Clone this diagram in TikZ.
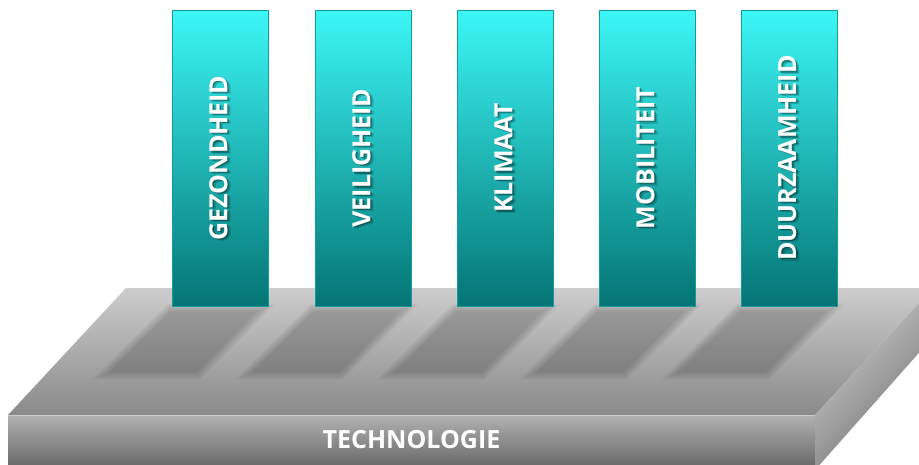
\documentclass[tikz,border=0pt]{standalone}
\usepackage{fontspec}
\setmainfont{Open Sans}
\definecolor{cyanT}{HTML}{3DF7F7}
\definecolor{tealB}{HTML}{047474}
\definecolor{topA}{HTML}{CDCDCD}
\definecolor{topM}{HTML}{BDBDBD}
\definecolor{topB}{HTML}{8A8A8A}
\definecolor{frontA}{HTML}{B2B2B2}
\definecolor{frontB}{HTML}{646464}
\definecolor{sideA}{HTML}{D2D2D2}
\definecolor{sideB}{HTML}{6E6E6E}
\newcommand{\shadowtext}[3]{% #1 right shift, #2 raise, #3 text
  {\pgfsetfillopacity{0.3}\rlap{\hspace*{#1}\raisebox{#2}{\color{black}#3}}%
   \pgfsetfillopacity{0.18}\rlap{\hspace*{#1}\hspace*{#1}\raisebox{#2}{\raisebox{#2}{\color{black}#3}}}%
   \pgfsetfillopacity{1}#3}}
\tikzset{
  pillar/.style={rectangle, minimum width=96pt, minimum height=296pt, inner sep=0pt,
    top color=cyanT, bottom color=tealB, draw=tealB!70!cyanT, line width=0.6pt},
  lbl/.style={text=white, font=\bfseries\fontsize{25}{30}\selectfont, inner sep=0pt},
  shadowlayer/.style={fill=black, opacity=0.036}
}
\begin{document}
\begin{tikzpicture}[x=1pt,y=-1pt]
\useasboundingbox (0,0) rectangle (919,464);
\begin{scope}
\clip (0,0) rectangle (919,464);
% platform top face
\shade[top color=topA, middle color=topM, bottom color=topB]
  (126,288) -- (933,288) -- (815,415) -- (8,415) -- cycle;
% front face
\shade[top color=frontA, bottom color=frontB] (8,415) rectangle (815,470);
\draw[white, opacity=0.35, line width=1pt] (8,415.5) -- (815,415.5);
% right face
\shade[top color=sideA, bottom color=sideB, shading angle=45]
  (815,415) -- (933,288) -- (933,337) -- (815,470) -- cycle;
% blurred footprints of the pillars
\foreach \L in {172,315,457,599,741} {
  \foreach \e in {-3,-1.5,0,1.5,3,4.5} {
    \fill[shadowlayer]
      ({\L-2-0.41*\e},{308-\e}) -- ({\L+93+2.41*\e},{308-\e}) --
      ({\L+26+0.41*\e},{375+\e}) -- ({\L-69-2.41*\e},{375+\e}) -- cycle;
  }
}
\end{scope}
% pillars
\node[pillar] (p1) at (220,158) {};
\node[pillar] (p2) at (363,158) {};
\node[pillar] (p3) at (505,158) {};
\node[pillar] (p4) at (647,158) {};
\node[pillar] (p5) at (789,158) {};
% pillar labels with soft shadow
\foreach \p/\t in {p1/GEZONDHEID, p2/VEILIGHEID, p3/KLIMAAT, p4/MOBILITEIT, p5/DUURZAAMHEID} {
  \node[lbl, rotate=90] (\p-label) at (\p.center) {\shadowtext{-1.2pt}{-1.6pt}{\t}};
}
% base label
\node[lbl] (base) at (411.5,440) {TECHNOLOGIE};
\end{tikzpicture}
\end{document}
